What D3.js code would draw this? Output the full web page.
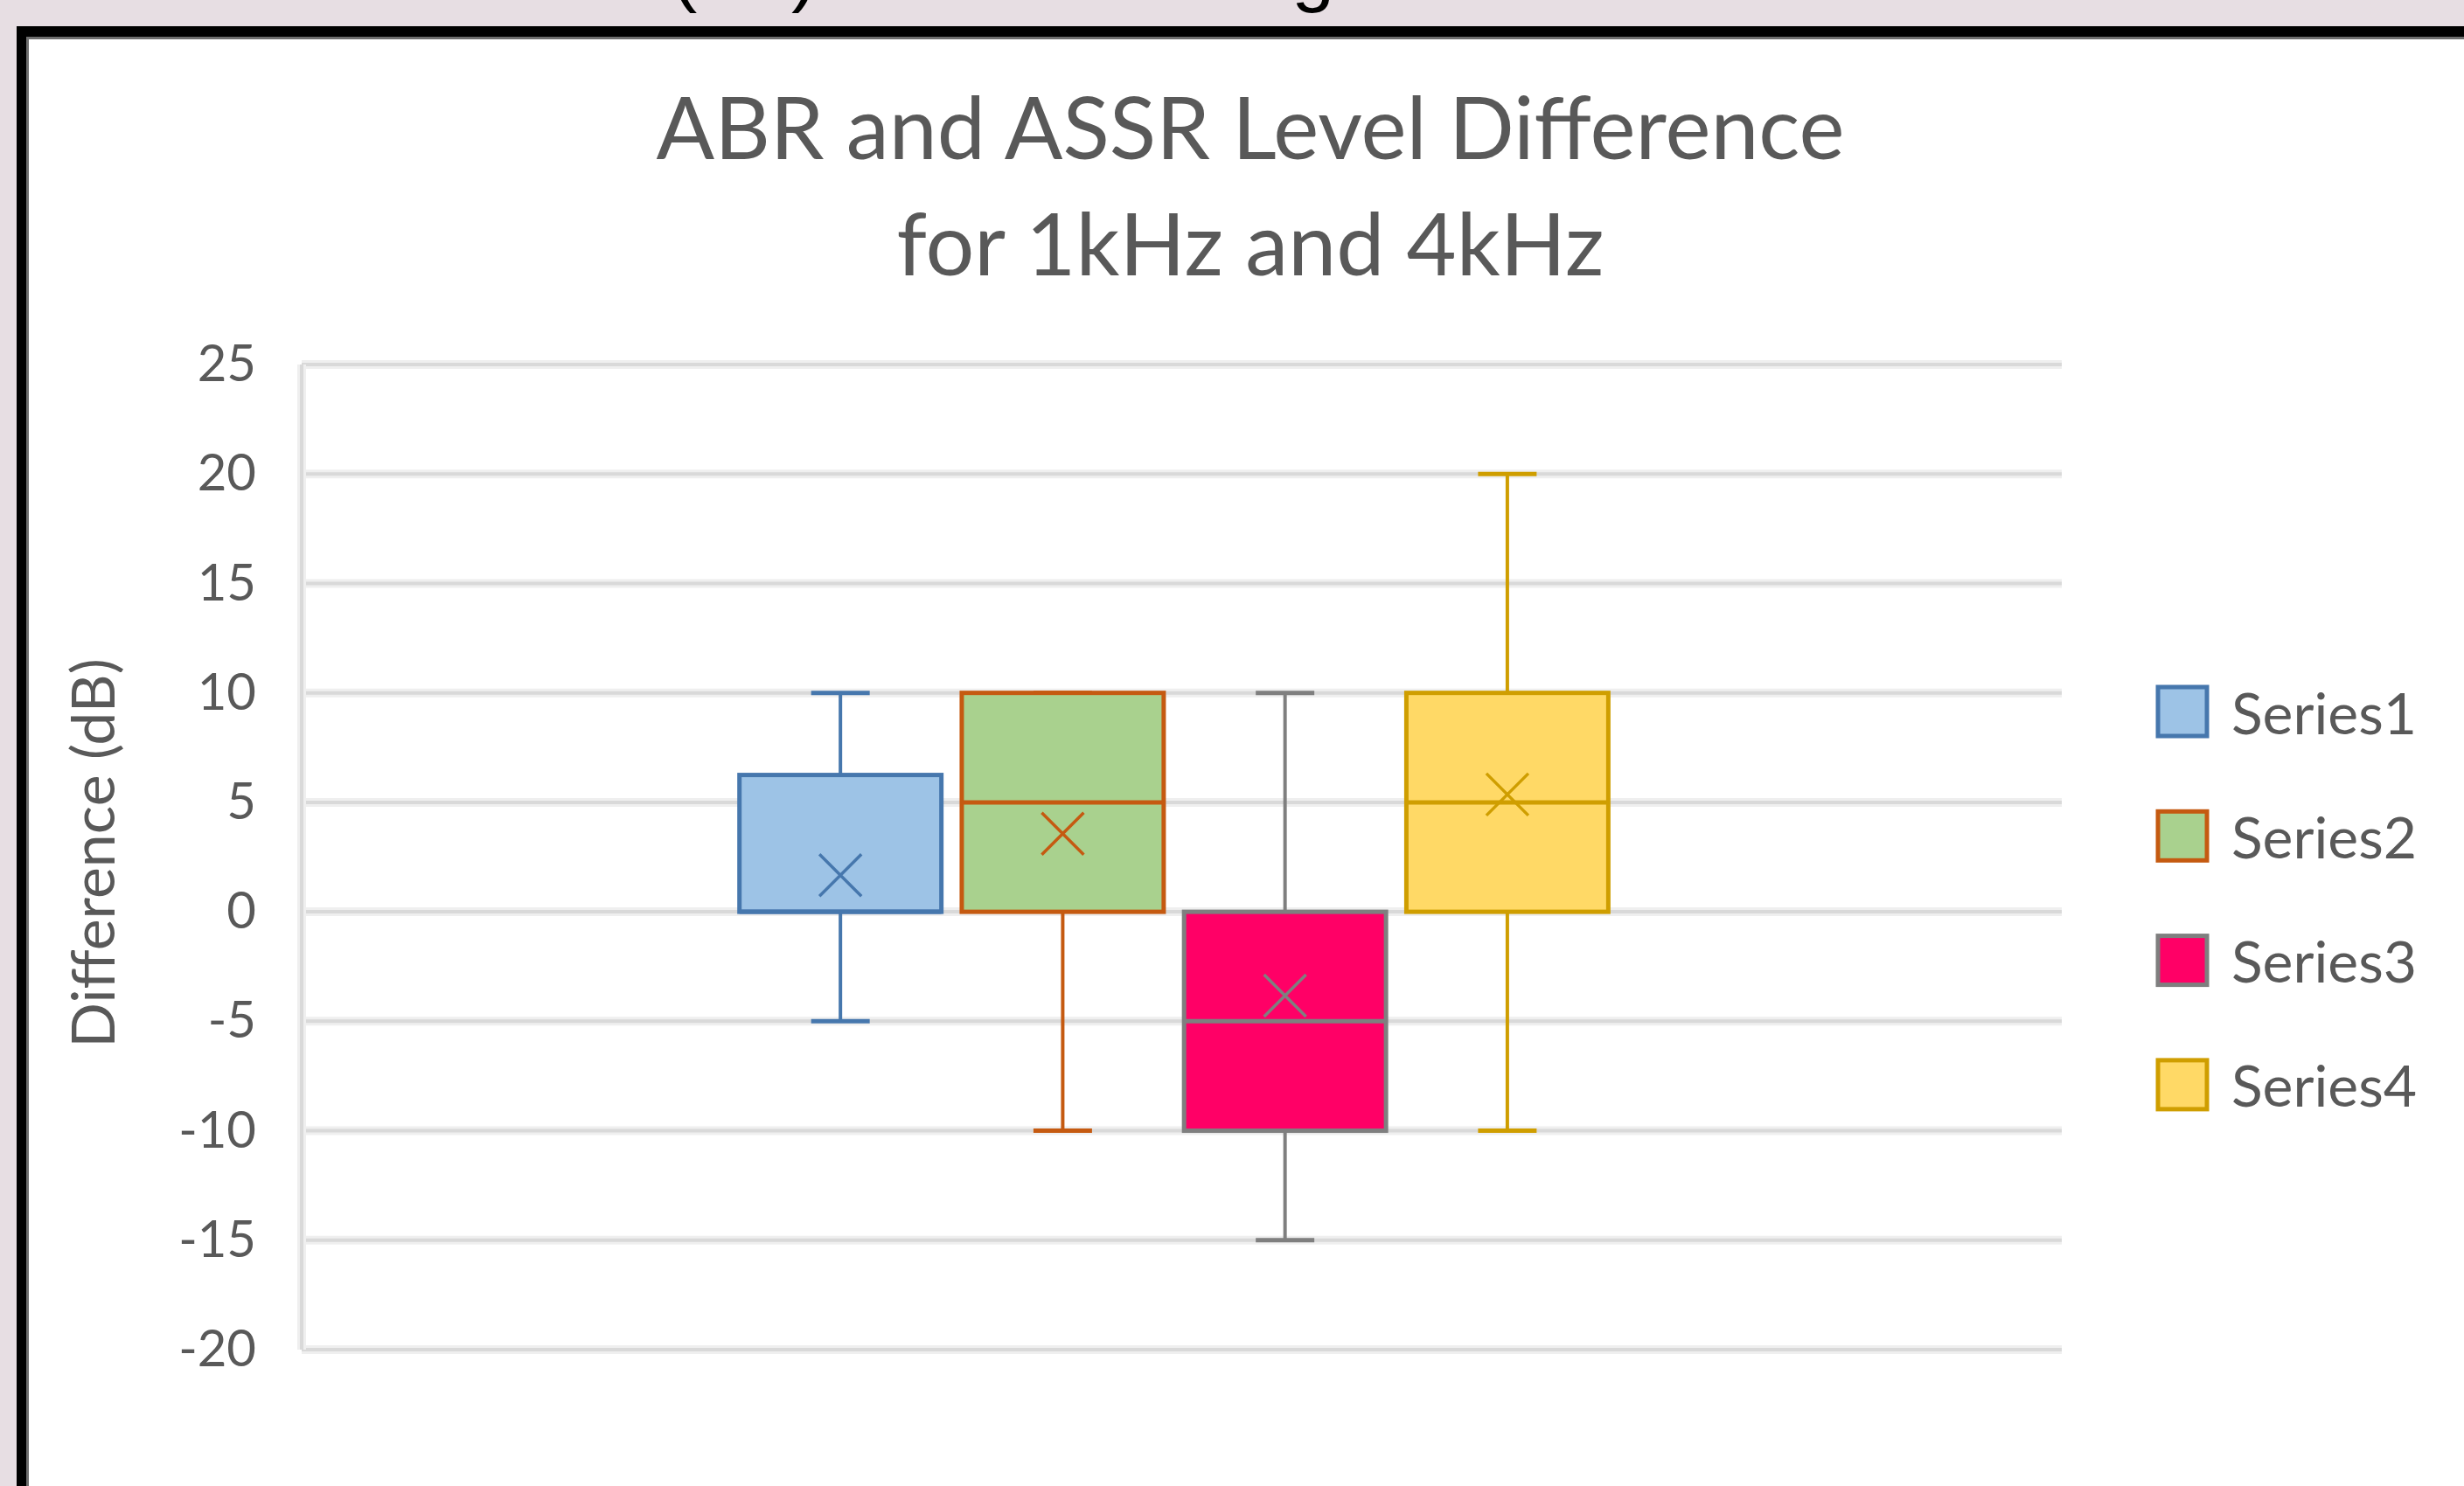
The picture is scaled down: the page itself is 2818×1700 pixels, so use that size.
<!DOCTYPE html>
<html>
<head>
<meta charset="utf-8">
<script src="https://cdn.jsdelivr.net/npm/d3@7"></script>
<style>
  html, body { margin: 0; padding: 0; background: #e7dee3; overflow: hidden; }
  svg { display: block; }
</style>
</head>
<body>
<svg id="chart" width="2818" height="1700"></svg>
<script>
// ---- data ----
const series      = ["Series1", "Series2", "Series3", "Series4"];
const groups      = ["1"];                       // one category holds all four boxes
const whiskerLow  = [-5, -10, -15, -10];
const q1          = [0, 0, -10, 0];
const median      = [0, 5, -5, 5];
const q3          = [6.25, 10, 0, 10];
const whiskerHigh = [10, 10, 10, 20];
const mean        = [1.67, 3.57, -3.83, 5.36];
const yTicks      = [-20, -15, -10, -5, 0, 5, 10, 15, 20, 25];
const titleLines  = ["ABR and ASSR Level Difference", "for 1kHz and 4kHz"];
const yTitle      = "Difference (dB)";
const captionText = "(dB) in each setting";

// ---- styling ----
const fills   = ["#9dc3e6", "#a9d18e", "#ff0066", "#ffd966"];
const strokes = ["#4677ad", "#c55a11", "#7f7f7f", "#cf9e00"];
const textCol = "#595959";
const gridCol = "#d9d9d9";
const font    = "Lato, 'Open Sans', sans-serif";

const svg = d3.select("#chart");
const W = 2818, H = 1700;

// frame: page band, black border, white chart area
svg.append("rect").attr("x", 0).attr("y", 0).attr("width", W).attr("height", H).attr("fill", "#e7dee3");
svg.append("rect").attr("x", 19).attr("y", 30).attr("width", W - 19).attr("height", H - 30).attr("fill", "#000");
svg.append("rect").attr("x", 30).attr("y", 42).attr("width", W - 30).attr("height", H - 42).attr("fill", "#6e6e6e");
svg.append("rect").attr("x", 33).attr("y", 45).attr("width", W - 33).attr("height", H - 45).attr("fill", "#fff");

// caption line above the frame (only its descenders fall inside the page)
svg.append("text")
  .attr("x", 768).attr("y", -3)
  .attr("font-family", "'Liberation Sans', Arial, sans-serif")
  .attr("font-size", 88)
  .attr("fill", "#000")
  .text(captionText);

// ---- scales ----
const plot = { left: 345, right: 2358, top: 417, bottom: 1544 };

const y = d3.scaleLinear().domain([-20, 25]).range([plot.bottom, plot.top]);

const x0 = d3.scaleBand().domain(groups)
  .range([plot.left, plot.right])
  .paddingInner(0).paddingOuter(0.4897).align(0.491);

const x1 = d3.scaleBand().domain(series)
  .range([0, x0.bandwidth()])
  .paddingInner(0.0916).paddingOuter(0.0458);

// ---- gridlines ----
const grid = svg.append("g");
yTicks.forEach(t => {
  grid.append("line")
    .attr("x1", plot.left).attr("x2", plot.right)
    .attr("y1", y(t)).attr("y2", y(t))
    .attr("stroke", "#efefef").attr("stroke-width", 10);
});
yTicks.forEach(t => {
  grid.append("line")
    .attr("x1", plot.left).attr("x2", plot.right)
    .attr("y1", y(t)).attr("y2", y(t))
    .attr("stroke", gridCol).attr("stroke-width", 4);
});
// vertical axis line
grid.append("line")
  .attr("x1", plot.left).attr("x2", plot.left)
  .attr("y1", plot.top).attr("y2", plot.bottom)
  .attr("stroke", "#efefef").attr("stroke-width", 10);
grid.append("line")
  .attr("x1", plot.left).attr("x2", plot.left)
  .attr("y1", plot.top).attr("y2", plot.bottom)
  .attr("stroke", gridCol).attr("stroke-width", 4);

// ---- y axis labels ----
const yAxis = d3.axisLeft(y).tickValues(yTicks).tickSize(0).tickPadding(52)
  .tickFormat(d => String(d));
const ga = svg.append("g").attr("transform", `translate(${plot.left},0)`).call(yAxis);
ga.select(".domain").remove();
ga.selectAll("text")
  .attr("font-family", font).attr("font-size", 58).attr("fill", textCol);

// axis title
svg.append("text")
  .attr("transform", `translate(${104},${976}) rotate(-90)`)
  .attr("text-anchor", "middle").attr("dominant-baseline", "central")
  .attr("font-family", font).attr("font-size", 68).attr("fill", textCol)
  .text(yTitle);

// ---- chart title ----
svg.append("g").selectAll("text").data(titleLines).join("text")
  .attr("x", 1430).attr("y", (d, i) => 182 + i * 133)
  .attr("text-anchor", "middle")
  .attr("font-family", font).attr("font-size", 98.5).attr("font-weight", 400)
  .attr("fill", textCol)
  .text(d => d);

// ---- boxes ----
const boxes = svg.append("g");
series.forEach((s, i) => {
  const bx = x0(groups[0]) + x1(s);
  const bw = x1.bandwidth();
  const cx = bx + bw / 2;
  const capW = bw * 0.29;
  const g = boxes.append("g");
  const st = strokes[i];

  // whiskers
  g.append("line").attr("x1", cx).attr("x2", cx)
    .attr("y1", y(q3[i])).attr("y2", y(whiskerHigh[i]))
    .attr("stroke", st).attr("stroke-width", 4);
  g.append("line").attr("x1", cx).attr("x2", cx)
    .attr("y1", y(q1[i])).attr("y2", y(whiskerLow[i]))
    .attr("stroke", st).attr("stroke-width", 4);
  [whiskerHigh[i], whiskerLow[i]].forEach(v => {
    g.append("line").attr("x1", cx - capW / 2).attr("x2", cx + capW / 2)
      .attr("y1", y(v)).attr("y2", y(v))
      .attr("stroke", st).attr("stroke-width", 5);
  });

  // interquartile box
  g.append("rect")
    .attr("x", bx).attr("y", y(q3[i]))
    .attr("width", bw).attr("height", y(q1[i]) - y(q3[i]))
    .attr("fill", fills[i]).attr("stroke", st).attr("stroke-width", 5);

  // median
  g.append("line").attr("x1", bx).attr("x2", bx + bw)
    .attr("y1", y(median[i])).attr("y2", y(median[i]))
    .attr("stroke", st).attr("stroke-width", 5);

  // mean marker (x)
  const my = y(mean[i]), r = 24;
  g.append("path")
    .attr("d", `M${cx - r},${my - r}L${cx + r},${my + r}M${cx - r},${my + r}L${cx + r},${my - r}`)
    .attr("stroke", st).attr("stroke-width", 3.5).attr("fill", "none");
});

// ---- legend ----
const legend = svg.append("g");
series.forEach((s, i) => {
  const cy = 814 + i * 142.3;
  legend.append("rect")
    .attr("x", 2468).attr("y", cy - 28).attr("width", 56).attr("height", 56)
    .attr("fill", fills[i]).attr("stroke", strokes[i]).attr("stroke-width", 5);
  legend.append("text")
    .attr("x", 2552).attr("y", cy).attr("dominant-baseline", "central")
    .attr("font-family", font).attr("font-size", 66).attr("fill", textCol)
    .text(s);
});
</script>
</body>
</html>
